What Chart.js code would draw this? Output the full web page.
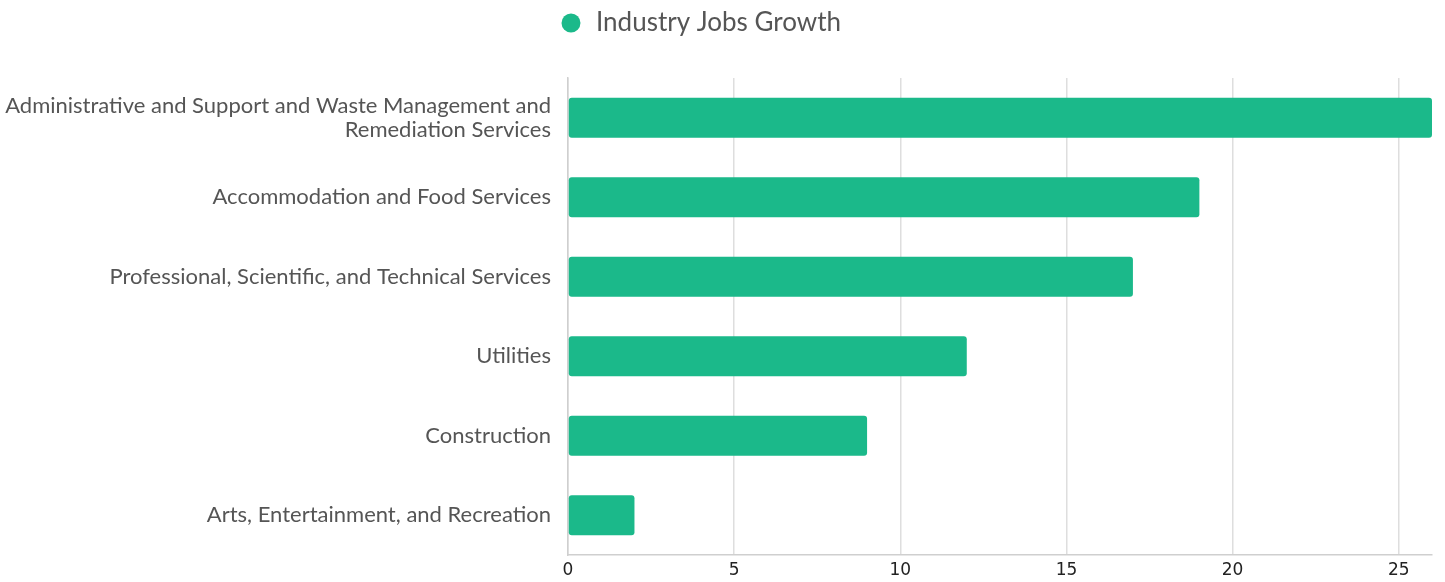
<!DOCTYPE html>
<html>
<head>
<meta charset="utf-8">
<script src="https://cdn.jsdelivr.net/npm/chart.js@4/dist/chart.umd.min.js"></script>
<style>
html,body{margin:0;padding:0;background:#fff;}
#wrap{width:1445px;height:582px;position:relative;}
</style>
</head>
<body>
<div id="wrap"><canvas id="c"></canvas></div>
<script>
const categories = [
  ['Administrative and Support and Waste Management and', 'Remediation Services'],
  'Accommodation and Food Services',
  'Professional, Scientific, and Technical Services',
  'Utilities',
  'Construction',
  'Arts, Entertainment, and Recreation'
];
const seriesName = 'Industry Jobs Growth';
const values = [26, 19, 17, 12, 9, 2];
const xMax = 26;
const xStep = 5;

const legendSpacer = {
  id: 'legendSpacer',
  beforeInit(chart) {
    const origFit = chart.legend.fit;
    chart.legend.fit = function () {
      origFit.call(this);
      this.height += 32;
    };
  },
  afterLayout(chart) {
    chart.legend.left -= 18;
    chart.legend.right -= 18;
  }
};

new Chart(document.getElementById('c'), {
  type: 'bar',
  plugins: [legendSpacer],
  data: {
    labels: categories,
    datasets: [{
      label: seriesName,
      data: values,
      backgroundColor: '#1bb98a',
      borderRadius: 3,
      borderSkipped: false,
      categoryPercentage: 0.8,
      barPercentage: 0.63
    }]
  },
  options: {
    indexAxis: 'y',
    responsive: true,
    maintainAspectRatio: false,
    animation: false,
    layout: { padding: { left: 4, right: 13, top: 0, bottom: 2 } },
    plugins: {
      legend: {
        display: true,
        position: 'top',
        labels: {
          usePointStyle: true,
          pointStyle: 'circle',
          boxWidth: 24,
          boxHeight: 13.4,
          padding: 10,
          color: '#555',
          font: { family: 'Lato', size: 26 }
        }
      },
      tooltip: { enabled: false }
    },
    scales: {
      x: {
        min: 0,
        max: xMax,
        afterFit(scale) { scale.height = 25; },
        ticks: {
          stepSize: xStep,
          includeBounds: false,
          color: '#222',
          padding: 5,
          font: { family: 'DejaVu Sans', size: 17 }
        },
        grid: { color: '#dedede', drawTicks: false, lineWidth: 1.5 },
        border: { color: '#cfcfcf', width: 1.5 }
      },
      y: {
        afterFit(scale) {
          scale.width = 564;
          scale.paddingTop = 0;
          scale.paddingBottom = 0;
        },
        ticks: {
          color: '#555',
          padding: 17,
          font: { family: 'Lato', size: 22, lineHeight: 1.1 }
        },
        grid: { display: false, drawTicks: false },
        border: { color: '#cfcfcf', width: 1.5 }
      }
    }
  }
});
</script>
</body>
</html>
